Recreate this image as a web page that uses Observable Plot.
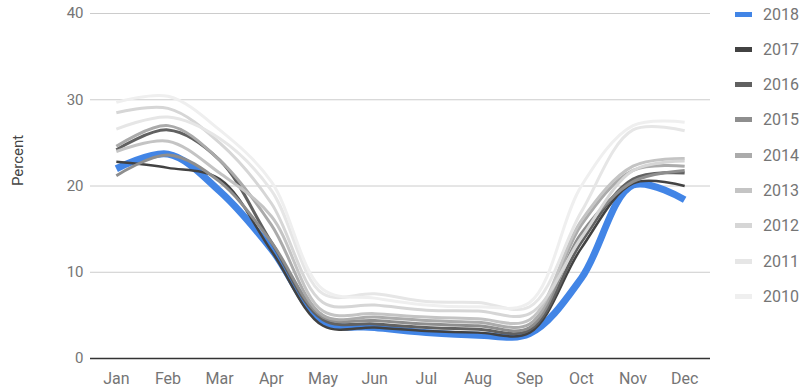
<!DOCTYPE html>
<html>
<head>
<meta charset="utf-8">
<script src="https://cdn.jsdelivr.net/npm/d3@7"></script>
<script src="https://cdn.jsdelivr.net/npm/@observablehq/plot@0.6"></script>
<style>
  body { margin: 0; background: #fff; font-family: Roboto, sans-serif; }
  #wrap { position: relative; width: 801px; height: 390px; }
  #legend { position: absolute; left: 735px; top: 0; }
  .item { position: absolute; left: 0; display: flex; align-items: center; white-space: nowrap;
          font-size: 16px; color: #757575; height: 20px; margin-top: -10px; }
  .sw { width: 17px; height: 5px; margin-right: 11px; }
</style>
</head>
<body>
<div id="wrap"><div id="legend"></div></div>
<script>
// Monthly share (percent), one series per year
const months = ["Jan","Feb","Mar","Apr","May","Jun","Jul","Aug","Sep","Oct","Nov","Dec"];
const years  = ["2018","2017","2016","2015","2014","2013","2012","2011","2010"];
const colors = ["#4285e6","#424242","#616161","#8e8e8e","#ababab","#c4c4c4","#d6d6d6","#e6e6e6","#efefef"];
const widths = [7, 2.5, 3, 3, 3, 3, 3, 3, 3];

const v2018 = [22.0, 23.7, 19.4, 12.7, 4.3, 3.6, 3.0, 2.7, 2.9,  9.3, 20.1, 18.4];
const v2017 = [22.8, 22.1, 20.8, 12.5, 3.8, 3.6, 3.2, 3.0, 3.0, 12.8, 20.3, 20.0];
const v2016 = [24.2, 26.5, 23.0, 13.5, 4.5, 4.0, 3.6, 3.4, 3.3, 13.5, 20.8, 21.5];
const v2015 = [21.2, 23.6, 20.5, 13.5, 4.8, 4.4, 4.0, 3.8, 3.6, 14.5, 20.5, 21.8];
const v2014 = [24.6, 27.0, 23.0, 15.5, 5.0, 4.8, 4.4, 4.2, 4.0, 15.5, 21.8, 22.3];
const v2013 = [24.0, 25.2, 21.5, 16.5, 5.5, 5.2, 4.8, 4.6, 4.5, 16.0, 22.3, 23.2];
const v2012 = [28.5, 29.0, 25.0, 18.0, 6.5, 6.2, 5.6, 5.5, 5.2, 14.0, 21.8, 22.9];
const v2011 = [26.6, 28.0, 25.5, 19.5, 7.5, 7.5, 6.6, 6.5, 6.0, 17.0, 26.5, 26.4];
const v2010 = [29.7, 30.4, 26.5, 20.5, 8.0, 7.0, 6.2, 6.0, 6.5, 20.0, 27.0, 27.4];

const values = [v2018, v2017, v2016, v2015, v2014, v2013, v2012, v2011, v2010];

const rows = years.flatMap((yr, i) =>
  values[i].map((v, j) => ({year: yr, month: months[j], value: v})));

const lineMarks = years.map((yr, i) =>
  Plot.line(rows.filter(d => d.year === yr), {
    x: "month", y: "value",
    stroke: colors[i], strokeWidth: widths[i],
    curve: "catmull-rom", strokeLinejoin: "round", strokeLinecap: "butt"
  }));

const chart = Plot.plot({
  width: 801,
  height: 390,
  marginTop: 13,
  marginBottom: 32,
  marginLeft: 90,
  marginRight: 91,
  style: { fontFamily: "Roboto, sans-serif", fontSize: "15px", color: "#757575", background: "#fff" },
  x: { type: "point", domain: months, padding: 0.5, round: false, label: null },
  y: { domain: [0, 40], ticks: [0, 10, 20, 30, 40], label: null },
  marks: [
    Plot.gridY([10, 20, 30, 40], { stroke: "#cccccc", strokeOpacity: 1, strokeWidth: 1 }),
    Plot.axisY([0, 10, 20, 30, 40], { tickSize: 0, tickPadding: 7, label: null, fontSize: 15 }),
    Plot.axisX({ tickSize: 0, tickPadding: 14, label: null, fontSize: 16 }),
    ...lineMarks,
    Plot.ruleY([0], { stroke: "#333333", strokeWidth: 1.5 }),
    Plot.text(["Percent"], { frameAnchor: "left", dx: -72, rotate: -90, fontSize: 15, fill: "#444" })
  ]
});

document.getElementById("wrap").prepend(chart);

// Legend, one row per year
const legend = document.getElementById("legend");
years.forEach((yr, i) => {
  const item = document.createElement("div");
  item.className = "item";
  item.style.top = (14 + i * 35.3) + "px";
  const sw = document.createElement("div");
  sw.className = "sw";
  sw.style.background = colors[i];
  const label = document.createElement("span");
  label.textContent = yr;
  item.append(sw, label);
  legend.append(item);
});
</script>
</body>
</html>
